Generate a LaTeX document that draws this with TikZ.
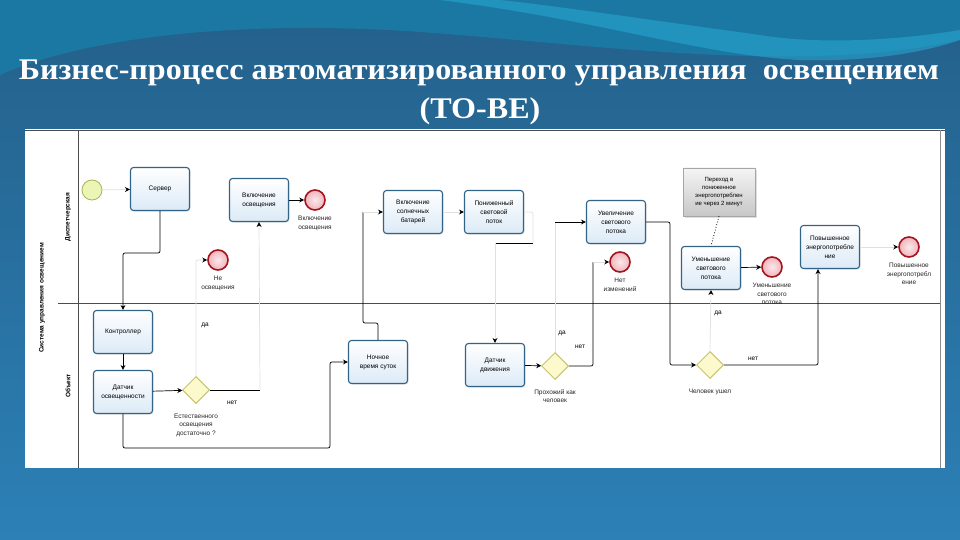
\documentclass[tikz,border=0pt]{standalone}
\usepackage{fontspec}
\setmainfont{Liberation Sans}
\newfontfamily\titlefont{Liberation Serif}
\usetikzlibrary{arrows.meta,shapes.geometric,positioning,shadows}

\definecolor{slidetop}{RGB}{36,96,138}
\definecolor{slidebot}{RGB}{44,128,182}
\definecolor{slideteal}{RGB}{26,120,162}
\definecolor{slidecyan}{RGB}{40,170,210}
\definecolor{taskline}{RGB}{50,100,135}
\definecolor{taskfill}{RGB}{220,234,247}
\definecolor{endline}{RGB}{165,20,30}
\definecolor{endfill}{RGB}{240,180,188}
\definecolor{startline}{RGB}{165,182,85}
\definecolor{startfill}{RGB}{236,245,182}
\definecolor{gateline}{RGB}{200,195,110}
\definecolor{gatefill}{RGB}{252,250,205}

\tikzstyle{task}=[rectangle, rounded corners=3pt, draw=taskline, line width=1.1pt, top color=white, bottom color=taskfill, minimum width=59pt, minimum height=43pt, inner sep=1pt, align=center, font=\fontsize{6.5}{9}\selectfont, drop shadow={opacity=0.2, shadow xshift=1pt, shadow yshift=-1pt}]
\tikzstyle{startevent}=[circle, draw=startline, line width=0.8pt, fill=startfill, minimum size=20pt, inner sep=0pt]
\tikzstyle{endevent}=[circle, draw=endline, line width=1.6pt, inner color=white!70!endfill, outer color=endfill, minimum size=20pt, inner sep=0pt]
\tikzstyle{gateway}=[diamond, draw=gateline, line width=1pt, fill=gatefill, minimum size=27pt, inner sep=0pt]
\tikzstyle{note}=[rectangle, draw=black!35, top color=black!4, bottom color=black!22, minimum width=72pt, minimum height=48pt, inner sep=1pt, align=center, font=\fontsize{6}{8}\selectfont, drop shadow={opacity=0.25, shadow xshift=2pt, shadow yshift=-2pt}]
\tikzstyle{evlabel}=[align=center, font=\fontsize{6.5}{8.5}\selectfont, text=black!85]
\tikzstyle{lane}=[rotate=90, font=\bfseries\fontsize{6.5}{8}\selectfont]
\tikzstyle{titletext}=[text=white, font=\titlefont\bfseries\fontsize{30}{34}\selectfont, xscale=1.07]
\tikzstyle{edge} = [draw, line width=0.7pt, rounded corners=2pt, -{Stealth[length=5pt,width=5pt]}]
\tikzstyle{faintedge} = [draw=black!12, line width=0.7pt, rounded corners=2pt, -{Stealth[length=5pt,width=5pt,black]}]
\tikzstyle{flowline} = [draw, line width=0.7pt, rounded corners=2pt]
\tikzstyle{faintline} = [draw=black!12, line width=0.7pt, rounded corners=2pt]
\tikzstyle{weight} = [font=\fontsize{6.5}{8}\selectfont]

\begin{document}
\begin{tikzpicture}[x=1pt, y=-1pt]

    % slide
    \shade[top color=slidetop, bottom color=slidebot] (0,0) rectangle (960,540);
    \fill[slideteal] (0,0) -- (0,75) .. controls (90,35) and (250,20) .. (420,32) .. controls (600,45) and (800,75) .. (960,40) -- (960,0) -- cycle;
    \fill[slidecyan, opacity=0.55] (440,0) .. controls (600,20) and (700,55) .. (800,60) .. controls (880,62) and (930,50) .. (960,40) -- (960,30) .. controls (900,40) and (820,45) .. (760,35) .. controls (650,20) and (550,5) .. (500,0) -- cycle;

    \node[titletext] (title) at (479,73) {Бизнес-процесс автоматизированного управления\ \ освещением};
    \node[titletext] (subtitle) at (480,111) {(TO-BE)};

    % pool and lanes
    \fill[white] (25,129) rectangle (945,468);
    \draw[black!70] (25,130) -- (945,130);
    \draw[black!70] (78,130) -- (78,468);
    \draw[black!70] (58,303) -- (940,303);
    \draw[black!45] (940,130) -- (940,468);

    \node[lane] (pool) at (42,298) {Система управления освещением};
    \node[lane] (dispatch) at (68,217) {Диспетчерская};
    \node[lane] (site) at (68,386) {Объект};

    \node[startevent] (start) at (92,190) {};

    \foreach \x/\y/\name/\txt in {160/189/server/{Сервер}, 259/200/lighton/{Включение\\освещения},
        123/332/ctrl/{Контроллер}, 123/392/lsens/{Датчик\\освещенности}, 378/362/night/{Ночное\\время суток},
        413/212/solar/{Включение\\солнечных\\батарей}, 494/212/lowflux/{Пониженный\\световой\\поток},
        616/222/incflux/{Увеличение\\светового\\потока}, 495/365/msens/{Датчик\\движения},
        711/268/decflux/{Уменьшение\\светового\\потока}, 830/247/highpow/{Повышенное\\энергопотребле\\ние}}
        \node[task] (\name) at (\x,\y) {\txt};

    \foreach \x/\y/\name/\txt in {315/200/endon/{Включение\\освещения}, 218/260/endoff/{Не\\освещения},
        620/262/endsame/{Нет\\изменений}, 772/267/enddec/{Уменьшение\\светового\\потока},
        909/247/endhigh/{Повышенное\\энергопотребл\\ение}}
        \node[endevent, label={[evlabel, label distance=2pt]below:\txt}] (\name) at (\x,\y) {};

    \foreach \x/\y/\name/\txt in {196/390/gwlight/{Естественного\\освещения\\достаточно ?},
        555/366/gwman/{Прохожий как\\человек}, 710/365/gwgone/{Человек ушел}}
        \node[gateway, label={[evlabel, label distance=6pt]below:\txt}] (\name) at (\x,\y) {};

    \node[note] (hint) at (719,192) {Переход в\\пониженное\\энергопотреблен\\ие через 2 минут};

    \foreach \x/\y/\name/\txt in {205/325/yes1/да, 232/403/no1/нет, 562/333/yes2/да,
        580/347/no2/нет, 718/313/yes3/да, 753/359/no3/нет}
        \node[weight] (\name) at (\x,\y) {\txt};

    % bends
    \coordinate (c1) at (141,253);
    \coordinate (c2) at (260,390);
    \coordinate (c3) at (330,448);
    \coordinate (c4) at (363,323);
    \coordinate (c5) at (363,212);
    \coordinate (c6) at (533,212);
    \coordinate (c7) at (533,243);
    \coordinate (c8) at (495,243);
    \coordinate (c9) at (593,262);
    \coordinate (c10) at (555,222);
    \coordinate (c11) at (670,365);

    \path[faintedge] (start) -- (server);
    \path[edge] (server.south) |- (c1) -| (ctrl.north);
    \path[edge] (ctrl) -- (lsens);
    \path[edge] (lsens) -- (gwlight);
    \path[flowline] (gwlight.east) -- (c2);
    \path[faintedge] (c2) -- (lighton.south);
    \path[faintedge] (gwlight.north) |- (endoff.west);
    \path[edge] (lighton) -- (endon);
    \path[edge] (lsens.south) |- (c3) |- (night.west);
    \path[flowline] (night.north) |- (c4) -- (c5);
    \path[faintedge] (c5) -- (solar.west);
    \path[faintedge] (solar) -- (lowflux);
    \path[faintline] (lowflux.east) -- (c6) -- (c7);
    \path[flowline] (c7) -- (c8);
    \path[faintedge] (c8) -- (msens.north);
    \path[edge] (msens) -- (gwman);
    \path[flowline] (gwman.east) -| (c9);
    \path[faintedge] (c9) -- (endsame.west);
    \path[faintline] (gwman.north) -- (c10);
    \path[edge] (c10) -- (incflux.west);
    \path[edge] (incflux.east) -| (c11) -- (gwgone.west);
    \path[edge] (gwgone.east) -| ([xshift=-12pt]highpow.south);
    \path[faintedge] (gwgone.north) -- (decflux.south);
    \path[edge] (decflux) -- (enddec);
    \path[faintedge] (highpow) -- (endhigh);
    \path[draw, line width=0.8pt, dotted] (hint.south) -- (decflux.north);

\end{tikzpicture}
\end{document}
